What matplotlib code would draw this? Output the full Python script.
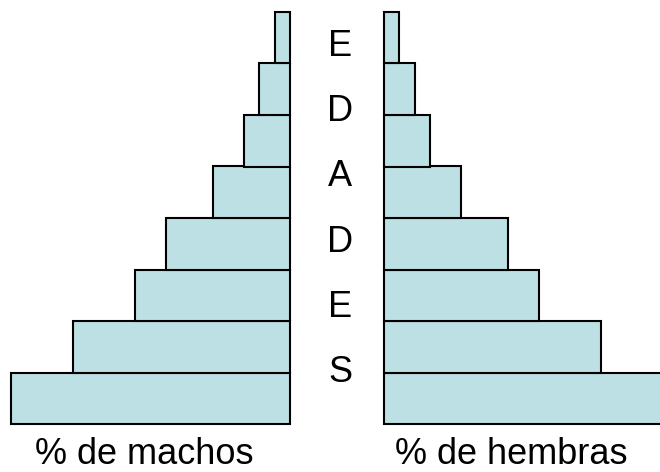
import matplotlib
matplotlib.use("Agg")
import matplotlib.pyplot as plt

# age groups, bottom to top
groups = list(range(8))
machos = [18, 14, 10, 8, 5, 3, 2, 1]
hembras = [18, 14, 10, 8, 5, 3, 2, 1]
letras = ["E", "D", "A", "D", "E", "S"]

W, H = 660, 472
fill = "#bce0e3"

plt.rcParams["font.family"] = ["Liberation Sans", "DejaVu Sans"]
fig = plt.figure(figsize=(W / 100, H / 100), dpi=100)

def px(x0, y0, w, h):
    return [x0 / W, (H - y0 - h) / H, w / W, h / H]

ax_l = fig.add_axes(px(11, 12, 279, 412))
bars = ax_l.barh(groups, machos, height=1, color=fill, edgecolor="black", linewidth=1.5)
for b in bars:
    b.set_clip_on(False)
ax_l.set_xlim(18, 0)
ax_l.set_ylim(-0.5, 7.5)
ax_l.axis("off")

ax_r = fig.add_axes(px(383.5, 12, 279, 412))
bars = ax_r.barh(groups, hembras, height=1, color=fill, edgecolor="black", linewidth=1.5)
for b in bars:
    b.set_clip_on(False)
ax_r.set_xlim(0, 18)
ax_r.set_ylim(-0.5, 7.5)
ax_r.axis("off")

for i, c in enumerate(letras):
    y = 46 + i * 65.4
    fig.text(340 / W, 1 - y / H, c, ha="center", va="center", fontsize=26)

fig.text(144 / W, 1 - 455 / H, "% de machos", ha="center", va="center", fontsize=26)
fig.text(511 / W, 1 - 455 / H, "% de hembras", ha="center", va="center", fontsize=26)

fig.savefig("out.png", dpi=100)
